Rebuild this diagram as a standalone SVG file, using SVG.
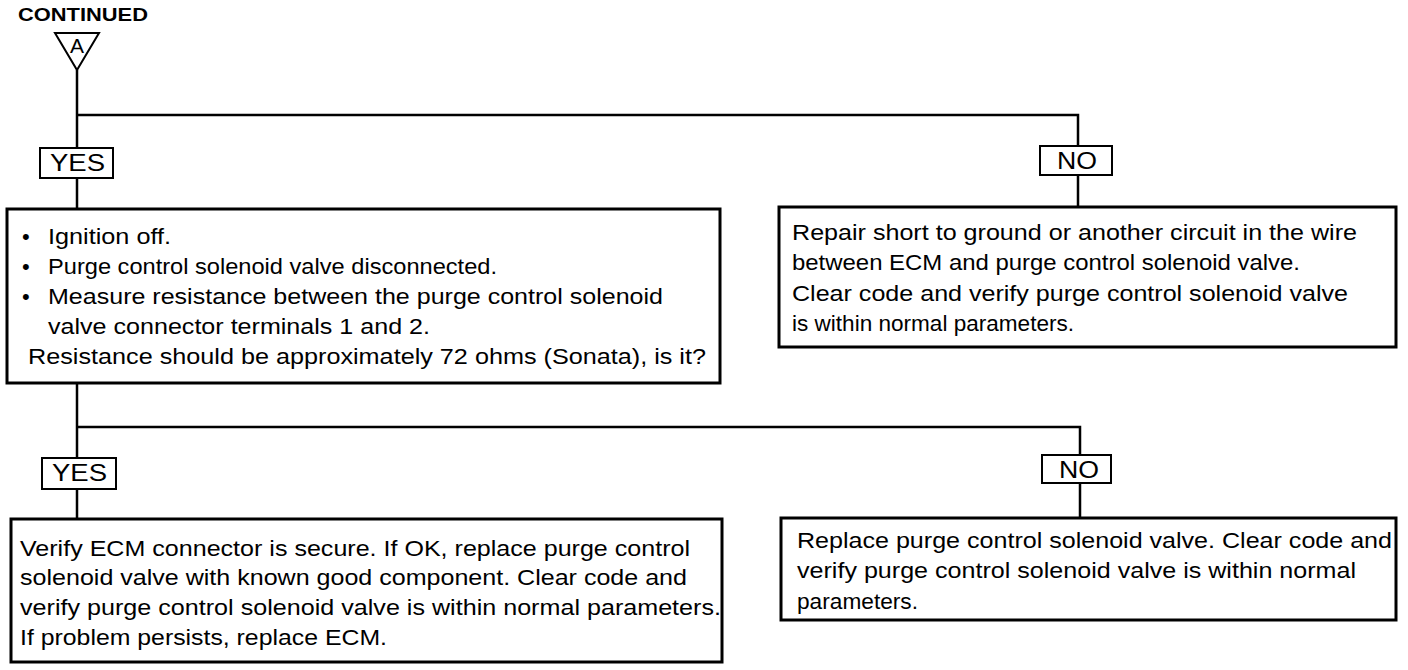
<svg xmlns="http://www.w3.org/2000/svg" width="1408" height="670" viewBox="0 0 1408 670">
<style>
.box{fill:#fff;stroke:#000;stroke-width:3}
.lbl{fill:#fff;stroke:#000;stroke-width:2}
.wire{fill:none;stroke:#000;stroke-width:2.5}
text{font-family:"Liberation Sans",Arial,Helvetica,sans-serif;fill:#000}
.t{font-size:22px}
.l{font-size:24px}
</style>
<rect width="1408" height="670" fill="#fff"/>
<g id="connectors">
<path class="wire" d="M77 70 V148 M77 178 V209 M77 115 H1078 V146 M1078 175 V207"/>
<path class="wire" d="M77 383 V458 M77 489 V519 M77 427 H1080 V455 M1080 483 V518"/>
</g>
<g id="continued">
<text x="18" y="21" font-size="19" font-weight="bold" textLength="130" lengthAdjust="spacingAndGlyphs">CONTINUED</text>
<polygon points="55,33 99,33 77,70" fill="#fff" stroke="#000" stroke-width="2"/>
<text x="77" y="53" font-size="21" text-anchor="middle">A</text>
</g>
<g id="yes1">
<rect class="lbl" x="40" y="148" width="73" height="30"/>
<text class="l" x="50" y="171" textLength="55" lengthAdjust="spacingAndGlyphs">YES</text>
</g>
<g id="no1">
<rect class="lbl" x="1040" y="146" width="72" height="29"/>
<text class="l" x="1057" y="169" textLength="40" lengthAdjust="spacingAndGlyphs">NO</text>
</g>
<g id="check">
<rect class="box" x="7" y="209" width="713" height="174"/>
<text class="t" x="22" y="244">•</text>
<text class="t" x="48" y="244" textLength="123" lengthAdjust="spacingAndGlyphs">Ignition off.</text>
<text class="t" x="22" y="274">•</text>
<text class="t" x="48" y="274" textLength="449" lengthAdjust="spacingAndGlyphs">Purge control solenoid valve disconnected.</text>
<text class="t" x="22" y="304">•</text>
<text class="t" x="48" y="304" textLength="615" lengthAdjust="spacingAndGlyphs">Measure resistance between the purge control solenoid</text>
<text class="t" x="48" y="334" textLength="382" lengthAdjust="spacingAndGlyphs">valve connector terminals 1 and 2.</text>
<text class="t" x="28" y="364" textLength="678" lengthAdjust="spacingAndGlyphs">Resistance should be approximately 72 ohms (Sonata), is it?</text>
</g>
<g id="repair">
<rect class="box" x="779" y="207" width="617" height="140"/>
<text class="t" x="792" y="240" textLength="565" lengthAdjust="spacingAndGlyphs">Repair short to ground or another circuit in the wire</text>
<text class="t" x="792" y="270" textLength="508" lengthAdjust="spacingAndGlyphs">between ECM and purge control solenoid valve.</text>
<text class="t" x="792" y="301" textLength="556" lengthAdjust="spacingAndGlyphs">Clear code and verify purge control solenoid valve</text>
<text class="t" x="792" y="331" textLength="282" lengthAdjust="spacingAndGlyphs">is within normal parameters.</text>
</g>
<g id="yes2">
<rect class="lbl" x="42" y="458" width="74" height="31"/>
<text class="l" x="52" y="481" textLength="55" lengthAdjust="spacingAndGlyphs">YES</text>
</g>
<g id="no2">
<rect class="lbl" x="1042" y="455" width="69" height="28"/>
<text class="l" x="1059" y="478" textLength="40" lengthAdjust="spacingAndGlyphs">NO</text>
</g>
<g id="verify">
<rect class="box" x="11" y="519" width="711" height="143"/>
<text class="t" x="20" y="556" textLength="670" lengthAdjust="spacingAndGlyphs">Verify ECM connector is secure. If OK, replace purge control</text>
<text class="t" x="20" y="585" textLength="667" lengthAdjust="spacingAndGlyphs">solenoid valve with known good component. Clear code and</text>
<text class="t" x="20" y="615" textLength="701" lengthAdjust="spacingAndGlyphs">verify purge control solenoid valve is within normal parameters.</text>
<text class="t" x="20" y="645" textLength="367" lengthAdjust="spacingAndGlyphs">If problem persists, replace ECM.</text>
</g>
<g id="replace">
<rect class="box" x="781" y="518" width="615" height="102"/>
<text class="t" x="797" y="548" textLength="595" lengthAdjust="spacingAndGlyphs">Replace purge control solenoid valve. Clear code and</text>
<text class="t" x="797" y="578" textLength="559" lengthAdjust="spacingAndGlyphs">verify purge control solenoid valve is within normal</text>
<text class="t" x="797" y="609" textLength="121" lengthAdjust="spacingAndGlyphs">parameters.</text>
</g>
</svg>
